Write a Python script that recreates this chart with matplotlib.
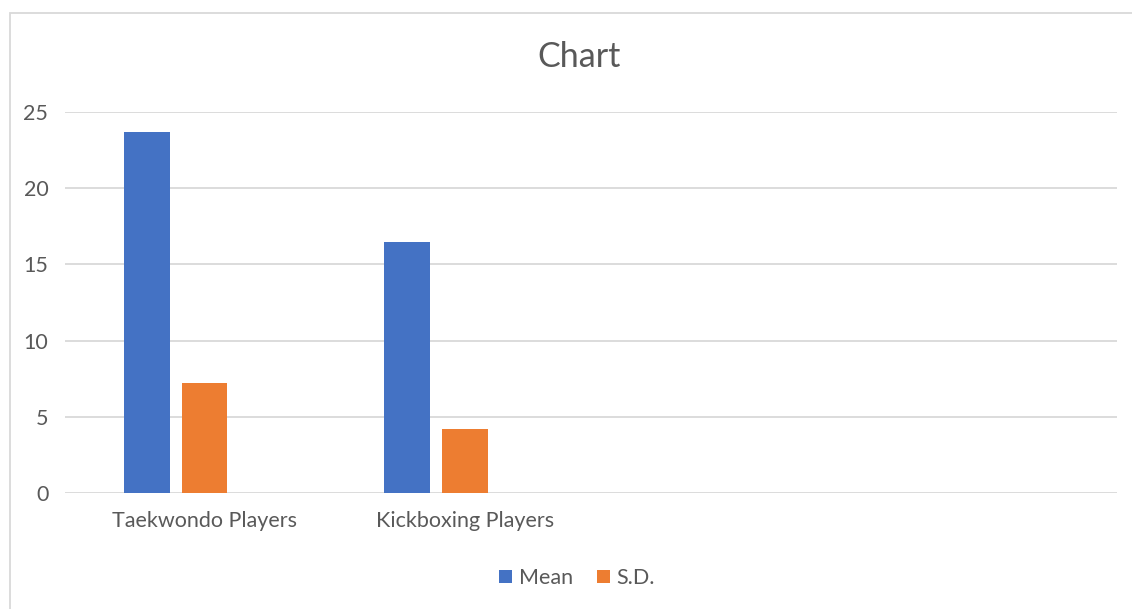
import matplotlib.pyplot as plt
from matplotlib.patches import Rectangle

# data
categories = ["Taekwondo Players", "Kickboxing Players", "", ""]
mean_vals = [23.7, 16.5]
sd_vals = [7.2, 4.2]
series_names = ["Mean", "S.D."]

plt.rcParams['font.family'] = ['Lato', 'DejaVu Sans']
txt = '#595959'

fig = plt.figure(figsize=(11.32, 6.09), dpi=100)
ax = fig.add_axes([65 / 1132, 1 - 493 / 609, (1117 - 65) / 1132, (493 - 112) / 609])

bw = 0.176
offs = [-0.222, 0.0]
cols = ['#4472C4', '#ED7D31']
for k, vals in enumerate([mean_vals, sd_vals]):
    xs = [i + offs[k] for i in range(len(vals))]
    ax.bar(xs, vals, bw, color=cols[k], label=series_names[k], zorder=3)

ax.set_xlim(-0.535, 3.5)
ax.set_ylim(0, 25)
ax.set_yticks([0, 5, 10, 15, 20, 25])
ax.set_xticks(range(len(categories)))
ax.set_xticklabels(categories)
ax.grid(axis='y', color='#D9D9D9', linewidth=1.3, zorder=0)
for s in ax.spines.values():
    s.set_visible(False)
ax.tick_params(length=0, labelsize=15.5, colors=txt)
ax.tick_params(axis='y', pad=12)
ax.tick_params(axis='x', pad=13)

fig.text(579 / 1132, 1 - 57 / 609, "Chart", ha='center', va='center', fontsize=24.5, color=txt)

leg = fig.legend(loc='center', bbox_to_anchor=(577 / 1132, 1 - 578 / 609), ncol=2, frameon=False,
                 fontsize=15.5, handlelength=0.6, handleheight=0.6, handletextpad=0.3, columnspacing=1.1)
for t in leg.get_texts():
    t.set_color(txt)

# chart outline
fig.patches.append(Rectangle((10 / 1132, -0.05), 1.2, 1 - 13 / 609 + 0.05, transform=fig.transFigure,
                             fill=False, edgecolor='#D9D9D9', linewidth=1.3))

fig.savefig('out.png', dpi=100)
